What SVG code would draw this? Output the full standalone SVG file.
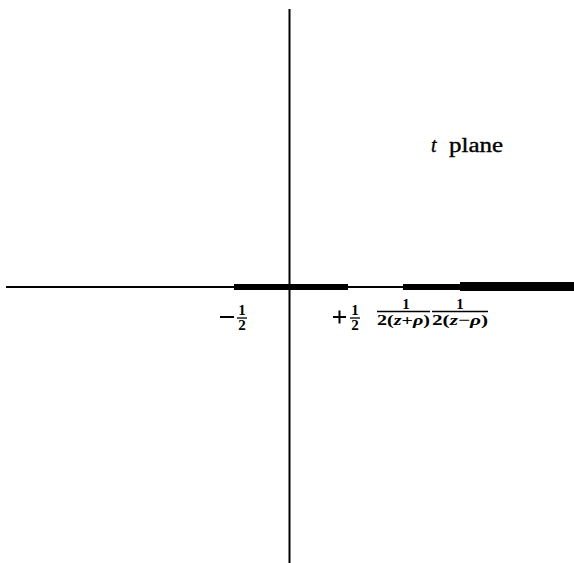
<svg xmlns="http://www.w3.org/2000/svg" width="574" height="563" viewBox="0 0 574 563">
<style>
.ax{stroke:#000;stroke-width:2;fill:none}
.cut{fill:#000}
.t{font-family:"Liberation Serif","Times New Roman",serif;fill:#000;stroke:#000;stroke-width:0.35}
.fr{font-size:15px;text-anchor:middle;font-weight:bold;stroke-width:0}
.bar{stroke:#000;stroke-width:1.3}
</style>
<rect width="574" height="563" fill="#fff"/>
<g id="axes">
<line class="ax" x1="6" y1="287" x2="574" y2="287"/>
<line class="ax" x1="289.5" y1="9" x2="289.5" y2="563"/>
</g>
<g id="cuts">
<rect class="cut" x="234" y="284" width="114" height="6"/>
<rect class="cut" x="403" y="284" width="57" height="6"/>
<rect class="cut" x="460" y="282" width="114" height="9"/>
</g>
<g id="title">
<text class="t" x="431" y="152" font-size="20" font-style="italic">t</text>
<text class="t" x="449" y="152" font-size="20" textLength="54" lengthAdjust="spacingAndGlyphs">plane</text>
</g>
<g id="label-minus-half">
<line class="bar" x1="220" y1="317" x2="234" y2="317" style="stroke-width:2"/>
<text class="t fr" x="242" y="315">1</text>
<line class="bar" x1="237" y1="318" x2="247" y2="318"/>
<text class="t fr" x="242" y="330">2</text>
</g>
<g id="label-plus-half">
<line class="bar" x1="333" y1="317" x2="346" y2="317" style="stroke-width:2"/>
<line class="bar" x1="339.5" y1="310.5" x2="339.5" y2="323.5" style="stroke-width:2"/>
<text class="t fr" x="355" y="315">1</text>
<line class="bar" x1="350" y1="318" x2="360" y2="318"/>
<text class="t fr" x="355" y="330">2</text>
</g>
<g id="label-z-plus-rho">
<text class="t fr" x="406" y="309">1</text>
<line class="bar" x1="377" y1="311.5" x2="430" y2="311.5"/>
<text class="t" x="377" y="325" font-size="15" font-weight="bold" style="stroke-width:0" textLength="53" lengthAdjust="spacingAndGlyphs">2(<tspan font-style="italic">z</tspan>+<tspan font-style="italic">ρ</tspan>)</text>
</g>
<g id="label-z-minus-rho">
<text class="t fr" x="460" y="309">1</text>
<line class="bar" x1="432" y1="311.5" x2="488" y2="311.5"/>
<text class="t" x="432" y="325" font-size="15" font-weight="bold" style="stroke-width:0" textLength="56" lengthAdjust="spacingAndGlyphs">2(<tspan font-style="italic">z</tspan>−<tspan font-style="italic">ρ</tspan>)</text>
</g>
</svg>
